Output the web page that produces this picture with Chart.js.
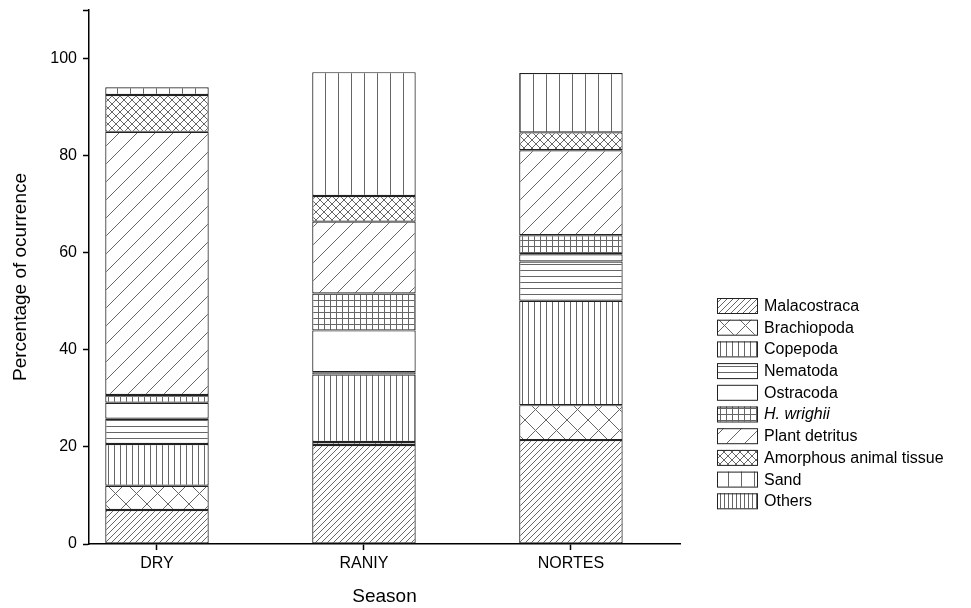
<!DOCTYPE html>
<html>
<head>
<meta charset="utf-8">
<script src="https://cdn.jsdelivr.net/npm/chart.js@4.4.1/dist/chart.umd.min.js"></script>
<style>
  html, body { margin: 0; background: #fff; }
  #wrap { width: 971px; height: 608px; }
</style>
</head>
<body>
<div id="wrap"><canvas id="chart"></canvas></div>
<script>
// seasons and the percentage of each item, bottom to top
const seasons = ['DRY', 'RANIY', 'NORTES'];
const malacostraca = [7.0, 20.4, 21.4];
const brachiopoda = [5.0, 0.6, 7.2];
const copepoda = [8.6, 13.9, 21.5];
const nematoda = [5.2, 0.5, 8.1];
const ostracoda = [3.3, 8.6, 1.5];
const hWrighii = [1.6, 7.6, 3.9];
const plantDetritus = [54.2, 14.8, 17.5];
const amorphous = [7.6, 5.3, 3.7];
const sand = [1.6, 25.5, 12.2];
const others = [0, 0, 0];
const yTicks = [0, 20, 40, 60, 80, 100];

const FONT = '"Liberation Sans", Arial, sans-serif';

// hatch fills, like Origin's patterns
function hatch(kind, s) {
  const c = document.createElement('canvas');
  c.width = s; c.height = s;
  const g = c.getContext('2d');
  g.fillStyle = '#fff';
  g.fillRect(0, 0, s, s);
  g.strokeStyle = '#666';
  g.lineWidth = 1;
  g.beginPath();
  if (kind.includes('v')) { g.moveTo(0.5, 0); g.lineTo(0.5, s); }
  if (kind.includes('h')) { g.moveTo(0, 0.5); g.lineTo(s, 0.5); }
  if (kind.includes('f')) {
    g.moveTo(-1, s + 1); g.lineTo(s + 1, -1);
    g.moveTo(-2, 2); g.lineTo(2, -2);
    g.moveTo(s - 2, s + 2); g.lineTo(s + 2, s - 2);
  }
  if (kind.includes('b')) {
    g.moveTo(-1, -1); g.lineTo(s + 1, s + 1);
    g.moveTo(-2, s - 2); g.lineTo(2, s + 2);
    g.moveTo(s - 2, -2); g.lineTo(s + 2, 2);
  }
  g.stroke();
  return g.createPattern(c, 'repeat');
}

const series = [
  { label: 'Malacostraca', data: malacostraca, fill: hatch('f', 6) },
  { label: 'Brachiopoda', data: brachiopoda, fill: hatch('fb', 21) },
  { label: 'Copepoda', data: copepoda, fill: hatch('v', 6) },
  { label: 'Nematoda', data: nematoda, fill: hatch('h', 6) },
  { label: 'Ostracoda', data: ostracoda, fill: '#fff' },
  { label: 'H. wrighii', data: hWrighii, fill: hatch('vh', 6), italic: true },
  { label: 'Plant detritus', data: plantDetritus, fill: hatch('f', 18) },
  { label: 'Amorphous animal tissue', data: amorphous, fill: hatch('fb', 8) },
  { label: 'Sand', data: sand, fill: hatch('v', 13) },
  { label: 'Others', data: others, fill: hatch('v', 4) }
];

// legend drawn at the right, as in the figure
const sideLegend = {
  id: 'sideLegend',
  afterDraw(chart) {
    const ctx = chart.ctx;
    ctx.save();
    chart.data.datasets.forEach((ds, i) => {
      const y = 305.5 + i * 21.7;
      ctx.fillStyle = ds.backgroundColor;
      ctx.fillRect(717, y - 7.5, 40, 15);
      ctx.strokeStyle = '#222';
      ctx.lineWidth = 1;
      ctx.strokeRect(717.5, y - 7, 40, 15);
      ctx.fillStyle = '#000';
      ctx.font = (ds.italic ? 'italic ' : '') + '16px ' + FONT;
      ctx.textBaseline = 'middle';
      ctx.textAlign = 'left';
      ctx.fillText(ds.label, 764, y + 1);
    });
    ctx.restore();
  }
};

new Chart(document.getElementById('chart'), {
  type: 'bar',
  data: {
    datasets: series.map(s => ({
      label: s.label,
      data: s.data.map((v, i) => ({ x: i + 1, y: v })),
      backgroundColor: s.fill,
      borderColor: '#222',
      borderWidth: 1.2,
      borderSkipped: false,
      barPercentage: 0.5,
      categoryPercentage: 1,
      italic: !!s.italic
    }))
  },
  options: {
    responsive: true,
    maintainAspectRatio: false,
    animation: false,
    layout: { padding: { left: 9, right: 291, top: 0, bottom: 0 } },
    plugins: { legend: { display: false }, tooltip: { enabled: false } },
    scales: {
      x: {
        type: 'linear',
        stacked: true,
        offset: false,
        min: 0.6715,
        max: 3.527,
        afterBuildTicks: s => { s.ticks = seasons.map((_, i) => ({ value: i + 1 })); },
        afterFit: s => { s.height = 64; },
        ticks: {
          callback: v => seasons[v - 1] || '',
          color: '#000',
          font: { family: FONT, size: 16 },
          padding: 4,
          maxRotation: 0
        },
        grid: { offset: false, drawOnChartArea: false, tickLength: 6, tickColor: '#000', tickWidth: 1.5 },
        border: { color: '#000', width: 1.5 },
        title: {
          display: true,
          text: 'Season',
          color: '#000',
          font: { family: FONT, size: 19 },
          padding: { top: 7, bottom: 0 }
        }
      },
      y: {
        stacked: true,
        min: 0,
        max: 110,
        afterBuildTicks: s => { s.ticks = yTicks.concat([110]).map(v => ({ value: v })); },
        afterFit: s => { s.width = 80; s.paddingTop = 10; },
        ticks: {
          callback: v => (yTicks.includes(v) ? v : ''),
          color: '#000',
          font: { family: FONT, size: 16 },
          padding: 6
        },
        grid: { drawOnChartArea: false, tickLength: 6, tickColor: '#000', tickWidth: 1.5 },
        border: { color: '#000', width: 1.5 },
        title: {
          display: true,
          text: 'Percentage of ocurrence',
          color: '#000',
          font: { family: FONT, size: 19 },
          padding: { top: 0, bottom: 4 }
        }
      }
    }
  },
  plugins: [sideLegend]
});
</script>
</body>
</html>
